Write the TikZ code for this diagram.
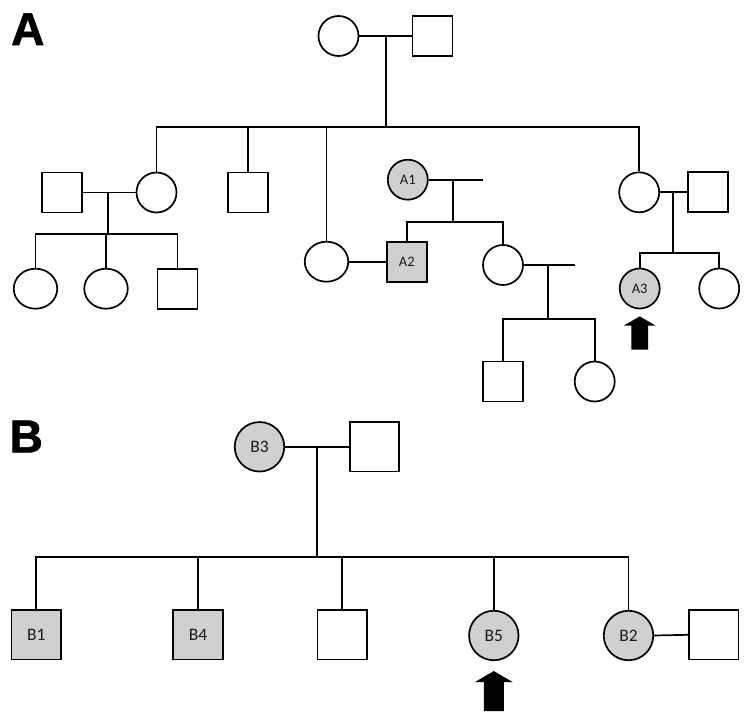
\documentclass[tikz,border=0pt]{standalone}
\usepackage{fontspec}
\setmainfont{Carlito}
\newfontfamily\panelfont{Liberation Sans}[BoldFeatures={FakeBold=1.5}]
\usetikzlibrary{shapes.geometric}

\definecolor{affgray}{RGB}{208,208,208}
\tikzstyle{person}=[draw,line width=1.7pt,inner sep=0pt,text=black!90,font=\fontsize{14.5}{14.5}\selectfont]
\tikzstyle{female}=[person,circle,minimum size=40pt]
\tikzstyle{male}=[person,rectangle,minimum size=40pt]
\tikzstyle{oval}=[person,ellipse,minimum width=43.5pt,minimum height=40pt]
\tikzstyle{large}=[minimum size=49.5pt,font=\fontsize{17.5}{17.5}\selectfont]
\tikzstyle{line}=[draw,line width=1.7pt]
\tikzstyle{panel}=[font=\panelfont\bfseries\fontsize{46}{46}\selectfont,inner sep=0pt,anchor=base west]

\newcommand{\probandarrow}[3]{%
  \fill[shift={(#1.south)},scale=#3] (0,#2) -- ++(16,9.3) -- ++(-7.7,0) -- ++(0,24)
    -- ++(-16.6,0) -- ++(0,-24) -- ++(-7.7,0) -- cycle;}

\begin{document}
\begin{tikzpicture}[x=1pt,y=-1pt]
\useasboundingbox (0,0) rectangle (750,725);

\node[panel] (labA) at (11,45) {A};
\node[panel] (labB) at (9.5,452.3) {B};

% panel A
\foreach \pos/\name/\kind/\col/\txt in {{(338.5,36)/gm/female/white/{}}, {(432.5,36)/gp/male/white/{}},
    {(156.5,192.5)/a1/female/white/{}}, {(62.3,192.5)/a1s/male/white/{}},
    {(247.7,192.4)/a2/male/white/{}}, {(326.5,261.7)/a3/oval/white/{}},
    {(639.2,192.3)/a4/female/white/{}}, {(708.2,192.3)/a4s/male/white/{}},
    {(35.5,288.7)/g1/oval/white/{}}, {(106,288.7)/g2/oval/white/{}}, {(177.5,288.7)/g3/male/white/{}},
    {(407.8,179.7)/A1/female/affgray/A1}, {(406.8,261.7)/A2/male/affgray/A2},
    {(503,265)/a5/female/white/{}}, {(502.7,381.5)/a6/male/white/{}}, {(594.7,381.5)/a7/female/white/{}},
    {(639.7,288.5)/A3/female/affgray/A3}, {(719.2,288.5)/a8/female/white/{}}}{
  \node[\kind,fill=\col] (\name) at \pos {\txt};
}

% panel B
\foreach \pos/\name/\kind/\col/\txt in {{(259.5,446.8)/B3/female/affgray/B3}, {(374.5,446.8)/bp/male/white/{}},
    {(36.3,634.8)/B1/male/affgray/B1}, {(198,634.8)/B4/male/affgray/B4}, {(342.3,634.8)/b1/male/white/{}},
    {(493.8,635.5)/B5/female/affgray/B5}, {(628.5,635.5)/B2/female/affgray/B2},
    {(713.8,634.8)/b2s/male/white/{}}}{
  \node[\kind,large,fill=\col] (\name) at \pos {\txt};
}

% couples
\foreach \a/\b in {gm/gp, a1s/a1, a4/a4s, a3/A2, B3/bp, B2/b2s}
  \path[line] (\a.east) -- (\b.west);
\coordinate (A1x) at (483.3,179.7);
\coordinate (a5x) at (575,265);
\path[line] (A1.east) -- (A1x);
\path[line] (a5.east) -- (a5x);

% descent points and sibship levels
\coordinate (m0) at (385.7,36);   \coordinate (s0) at (0,127.3);
\coordinate (m1) at (107.7,192.5); \coordinate (s1) at (0,234.3);
\coordinate (m2) at (452.7,179.7); \coordinate (s2) at (0,221.7);
\coordinate (m3) at (548.3,265);   \coordinate (s3) at (0,319);
\coordinate (m4) at (672.7,192.3); \coordinate (s4) at (0,252.7);
\coordinate (m5) at (316.7,446.8); \coordinate (s5) at (0,556.7);

\foreach \m/\s/\first/\last in {m0/s0/a1/a4, m1/s1/g1/g3, m2/s2/A2/a5,
                                m3/s3/a6/a7, m4/s4/A3/a8, m5/s5/B1/B2}{
  \path[line] (\m) -- (\m |- \s);
  \path[line] (\first.north) -- (\first.north |- \s) -- (\last.north |- \s) -- (\last.north);
}
\foreach \kid/\s in {a2/s0, a3/s0, g2/s1, B4/s5, b1/s5, B5/s5}
  \path[line] (\kid.north) -- (\kid.north |- \s);

% probands
\probandarrow{A3}{7}{1}
\probandarrow{B5}{8.3}{1.2}
\end{tikzpicture}
\end{document}
